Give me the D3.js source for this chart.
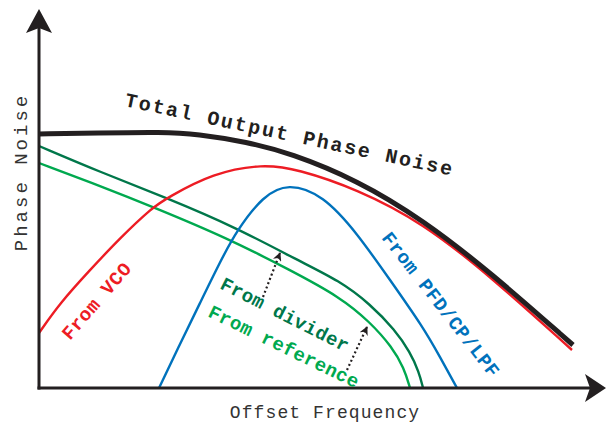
<!DOCTYPE html>
<html>
<head>
<meta charset="utf-8">
<script src="https://cdn.jsdelivr.net/npm/d3@7"></script>
<style>
  html, body { margin: 0; padding: 0; background: #fff; }
  svg { display: block; }
</style>
</head>
<body>
<svg id="chart" width="606" height="422"></svg>
<script>
// ---- data (arbitrary units: x = offset frequency, y = phase noise) ----
const totalX   = [0, 58, 124, 158, 208, 251, 318, 384, 451, 534];
const totalY   = [254, 255, 256, 254, 246, 235, 208, 168, 116, 43];

const vcoX     = [0, 21, 51, 81, 114, 128, 174, 224, 258, 318, 384, 451, 533];
const vcoY     = [55, 85, 118, 150, 181, 190, 215, 224, 219, 199, 165, 112, 38];

const pfdX     = [120, 141, 161, 181, 198, 224, 249, 284, 318, 351, 384, 401, 418];
const pfdY     = [0, 44, 85, 126, 158, 192, 205, 193, 155, 108, 61, 31, 0];

const dividerX = [0, 61, 128, 198, 258, 301, 331, 356, 371, 380, 384];
const dividerY = [242, 216, 190, 160, 128, 107, 84, 58, 36, 16, 0];

const refX     = [0, 61, 114, 188, 251, 301, 331, 353, 365, 371];
const refY     = [225, 202, 181, 150, 118, 91, 66, 41, 20, 0];

// dotted arrows: reference -> divider (from, to)
const arrowFromX = [224, 308];
const arrowFromY = [91, 18];
const arrowToX   = [241, 328];
const arrowToY   = [135, 61];

const seriesNames = ["Total Output Phase Noise", "From VCO", "From PFD/CP/LPF", "From divider", "From reference"];
const axisTitles  = ["Offset Frequency", "Phase Noise"];

// ---- layout ----
const svg = d3.select("#chart");
const x = d3.scaleLinear().domain([0, 550]).range([39, 589]);
const y = d3.scaleLinear().domain([0, 350]).range([388, 38]);

const C = {
  black: "#231f20",
  red: "#ed1c24",
  blue: "#0072bc",
  dgreen: "#00774a",
  lgreen: "#00a94f"
};

const line = d3.line()
  .x(d => x(d[0])).y(d => y(d[1]))
  .curve(d3.curveBasis);

function draw(xs, ys, color, w) {
  svg.append("path")
    .attr("d", line(d3.zip(xs, ys)))
    .attr("fill", "none")
    .attr("stroke", color)
    .attr("stroke-width", w)
    .attr("stroke-linecap", "butt");
}

draw(refX, refY, C.lgreen, 2.4);
draw(dividerX, dividerY, C.dgreen, 2.4);
draw(pfdX, pfdY, C.blue, 2.4);
draw(vcoX, vcoY, C.red, 2.4);
draw(totalX, totalY, C.black, 5);

// ---- axes with arrowheads ----
const x0 = x(0), y0 = y(0);
svg.append("line").attr("x1", x0).attr("y1", y0 + 1.5).attr("x2", x0).attr("y2", 28)
  .attr("stroke", C.black).attr("stroke-width", 3);
svg.append("line").attr("x1", x0 - 1.5).attr("y1", y0).attr("x2", 590).attr("y2", y0)
  .attr("stroke", C.black).attr("stroke-width", 3);
// y arrowhead
svg.append("path")
  .attr("d", `M${x0},9 L${x0 + 13},33 L${x0},28 L${x0 - 13},33 Z`)
  .attr("fill", C.black);
// x arrowhead
svg.append("path")
  .attr("d", `M606,${y0} L585,${y0 + 14} L590,${y0} L585,${y0 - 14} Z`)
  .attr("fill", C.black);

// ---- axis titles ----
const mono = "'Liberation Mono', 'DejaVu Sans Mono', monospace";
svg.append("text")
  .attr("x", 325).attr("y", 418)
  .attr("text-anchor", "middle")
  .attr("font-family", mono).attr("font-size", 18)
  .attr("letter-spacing", 1.1)
  .attr("fill", "#333")
  .text(axisTitles[0]);
svg.append("text")
  .attr("transform", "translate(27,172) rotate(-90)")
  .attr("text-anchor", "middle")
  .attr("font-family", mono).attr("font-size", 19)
  .attr("letter-spacing", 3)
  .attr("fill", "#333")
  .text(axisTitles[1]);

// ---- curve labels ----
const labels = [
  { t: seriesNames[0], px: 124, py: 106, a: 12,  c: C.black,  fs: 20, ls: 2 },
  { t: seriesNames[1], px: 70,  py: 341, a: -49, c: C.red,    fs: 19, ls: 0.5 },
  { t: seriesNames[2], px: 381, py: 238, a: 52,  c: C.blue,   fs: 19, ls: 0.5 },
  { t: seriesNames[3], px: 219, py: 288, a: 27,  c: C.dgreen, fs: 19, ls: 0.4 },
  { t: seriesNames[4], px: 207, py: 316, a: 26,  c: C.lgreen, fs: 19, ls: 0.4 }
];
labels.forEach(l => {
  svg.append("text")
    .attr("transform", `translate(${l.px},${l.py}) rotate(${l.a})`)
    .attr("font-family", mono).attr("font-size", l.fs)
    .attr("font-weight", "bold")
    .attr("letter-spacing", l.ls)
    .attr("fill", l.c)
    .text(l.t);
});

// ---- dotted arrows ----
const defs = svg.append("defs");
defs.append("marker")
  .attr("id", "ah").attr("viewBox", "0 0 10 10")
  .attr("refX", 9).attr("refY", 5)
  .attr("markerWidth", 4).attr("markerHeight", 4)
  .attr("orient", "auto")
  .append("path").attr("d", "M0,0 L10,5 L0,10 L3,5 Z").attr("fill", C.black);

arrowFromX.forEach((fx, i) => {
  svg.append("line")
    .attr("x1", x(fx)).attr("y1", y(arrowFromY[i]))
    .attr("x2", x(arrowToX[i])).attr("y2", y(arrowToY[i]))
    .attr("stroke", C.black).attr("stroke-width", 2.2)
    .attr("stroke-dasharray", "2,2.6")
    .attr("marker-end", "url(#ah)");
});
</script>
</body>
</html>
